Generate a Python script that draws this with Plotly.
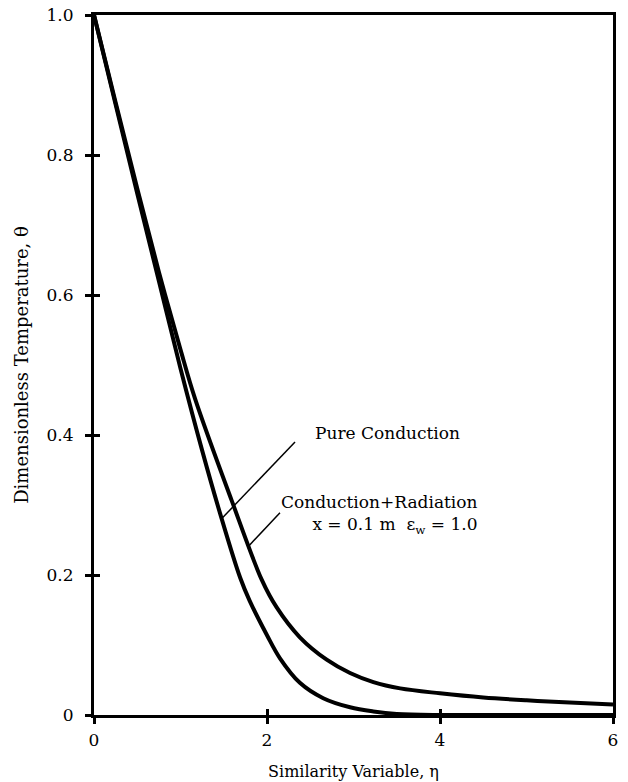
import plotly.graph_objects as go

eta_pure = [0, 0.25, 0.5, 0.75, 1.0, 1.25, 1.46, 1.69, 1.8, 2.0, 2.15, 2.38, 2.65,
            2.96, 3.23, 3.5, 4.0, 5.0, 6.0]
theta_pure = [1.0, 0.872, 0.745, 0.62, 0.495, 0.378, 0.287, 0.196, 0.163, 0.114, 0.081,
              0.046, 0.024, 0.011, 0.005, 0.0015, 0.0, 0.0, 0.0]

eta_rad = [0, 0.25, 0.5, 0.75, 1.0, 1.168, 1.59, 1.94, 2.11, 2.38, 2.69, 2.96, 3.23,
           3.54, 4.0, 4.5, 5.0, 5.5, 6.0]
theta_rad = [1.0, 0.875, 0.752, 0.633, 0.522, 0.452, 0.307, 0.193, 0.154, 0.111, 0.079,
             0.060, 0.047, 0.038, 0.031, 0.025, 0.021, 0.018, 0.015]

x_ticks = [0, 2, 4, 6]
x_ticklabels = ["0", "2", "4", "6"]
y_ticks = [0, 0.2, 0.4, 0.6, 0.8, 1.0]
y_ticklabels = ["0", "0.2", "0.4", "0.6", "0.8", "1.0"]

FONT = "DejaVu Serif"

fig = go.Figure()
fig.add_trace(go.Scatter(x=eta_pure, y=theta_pure, mode="lines", name="Pure Conduction",
                         line=dict(color="black", width=4, shape="spline", smoothing=1.0)))
fig.add_trace(go.Scatter(x=eta_rad, y=theta_rad, mode="lines", name="Conduction + Radiation",
                         line=dict(color="black", width=4, shape="spline", smoothing=1.0)))
# dummy trace for overlay axes carrying inward ticks
fig.add_trace(go.Scatter(x=[None], y=[None], xaxis="x2", yaxis="y2", showlegend=False,
                         hoverinfo="skip"))

axis_common = dict(showgrid=False, zeroline=False, linecolor="black", linewidth=3,
                   tickcolor="black", tickwidth=3, ticklen=6, automargin=False,
                   tickfont=dict(family=FONT, size=17, color="black"))

fig.update_layout(
    width=628, height=782,
    margin=dict(l=94, r=15, t=15, b=67),
    paper_bgcolor="white", plot_bgcolor="white",
    showlegend=False,
    xaxis=dict(range=[0, 6], tickvals=x_ticks, ticktext=x_ticklabels, ticks="outside",
               showline=True, mirror=True, ticklabelstandoff=2,
               title=dict(text="Similarity Variable, η", font=dict(family=FONT, size=16, color="black"),
                          standoff=17),
               **axis_common),
    yaxis=dict(range=[0, 1], tickvals=y_ticks, ticktext=y_ticklabels, ticks="outside",
               showline=True, mirror=True, ticklabelstandoff=8,
               title=dict(text="Dimensionless Temperature, θ", font=dict(family=FONT, size=18, color="black"),
                          standoff=14),
               **axis_common),
    xaxis2=dict(range=[0, 6], tickvals=x_ticks, ticks="inside", showticklabels=False,
                overlaying="x", anchor="y", side="bottom", showline=False, automargin=False,
                showgrid=False, zeroline=False, tickcolor="black", tickwidth=3, ticklen=6),
    yaxis2=dict(range=[0, 1], tickvals=y_ticks, ticks="inside", showticklabels=False,
                overlaying="y", anchor="x", side="left", showline=False, automargin=False,
                showgrid=False, zeroline=False, tickcolor="black", tickwidth=3, ticklen=6),
)

# leader lines
fig.add_shape(type="line", xref="x", yref="y", x0=1.48, y0=0.281, x1=2.324, y1=0.39,
              line=dict(color="black", width=1.5))
fig.add_shape(type="line", xref="x", yref="y", x0=1.80, y0=0.243, x1=2.15, y1=0.289,
              line=dict(color="black", width=1.5))

ann_font = dict(family=FONT, size=17, color="black")
fig.add_annotation(x=2.53, y=0.403, xref="x", yref="y", text="Pure Conduction",
                   showarrow=False, xanchor="left", yanchor="middle", font=ann_font)
fig.add_annotation(x=4.46, y=0.287, xref="x", yref="y",
                   text="Conduction+Radiation<br>x = 0.1 m  ε<sub>w</sub> = 1.0",
                   showarrow=False, xanchor="right", yanchor="middle", align="right",
                   font=ann_font)

fig.write_html("out.html", post_script="document.body.style.margin='0';",
               config={"displayModeBar": False})
